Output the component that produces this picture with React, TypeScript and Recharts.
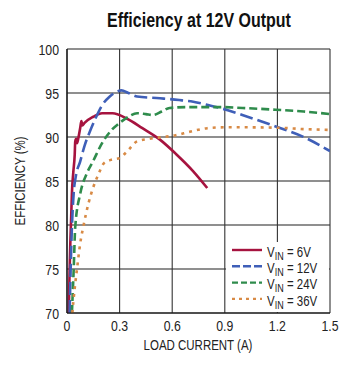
import React from 'react';
import { LineChart, Line, XAxis, YAxis, CartesianGrid, Label } from 'recharts';

const FONT = "'Liberation Sans', Arial, sans-serif";
const SQUEEZE = 0.82;

const xTicks = [0, 0.3, 0.6, 0.9, 1.2, 1.5];
const yTicks = [70, 75, 80, 85, 90, 95, 100];

const v6Current = [0.01, 0.015, 0.019, 0.024, 0.028, 0.036, 0.044, 0.047, 0.052, 0.057, 0.064, 0.075, 0.082, 0.087, 0.1, 0.15, 0.2, 0.26, 0.34, 0.43, 0.53, 0.62, 0.72, 0.8];
const v6Eff = [70, 75, 78, 81, 83.6, 86, 88, 89.5, 89.8, 89.3, 89.8, 91.0, 91.8, 91.3, 91.6, 92.3, 92.7, 92.7, 92.1, 91.0, 89.7, 88.1, 86.1, 84.2];

const v12Current = [0.015, 0.025, 0.038, 0.05, 0.075, 0.1, 0.13, 0.16, 0.2, 0.244, 0.29, 0.31, 0.35, 0.4, 0.53, 0.64, 0.72, 0.81, 0.89, 1.0, 1.19, 1.35, 1.5];
const v12Eff = [70, 78, 83.6, 85.5, 87.2, 89.0, 90.6, 92.0, 93.6, 94.6, 95.2, 95.3, 95.0, 94.6, 94.4, 94.2, 94.0, 93.6, 93.2, 92.5, 91.2, 90.0, 88.4];

const v24Current = [0.028, 0.038, 0.047, 0.076, 0.114, 0.15, 0.2, 0.25, 0.3, 0.35, 0.4, 0.45, 0.49, 0.54, 0.585, 0.68, 0.81, 0.89, 1.0, 1.19, 1.35, 1.5];
const v24Eff = [70, 74.9, 79.8, 83.6, 85.9, 87.3, 89.3, 90.7, 91.6, 92.3, 92.7, 92.6, 92.5, 92.9, 93.3, 93.4, 93.4, 93.4, 93.3, 93.1, 92.9, 92.6];

const v36Current = [0.03, 0.045, 0.057, 0.076, 0.095, 0.123, 0.15, 0.18, 0.21, 0.25, 0.3, 0.34, 0.4, 0.47, 0.55, 0.62, 0.7, 0.8, 0.9, 1.02, 1.21, 1.35, 1.5];
const v36Eff = [70, 73, 75, 78, 80, 82.5, 84.3, 85.8, 87, 87.4, 87.6, 88.3, 89.5, 89.8, 90.0, 90.2, 90.6, 91.0, 91.1, 91.1, 91.05, 90.9, 90.8];

const seriesLabels = ['6V', '12V', '24V', '36V'];
const seriesColors = ['#a6133f', '#3f5fb8', '#2f8c4c', '#d88a45'];
const seriesDash = [undefined, '13 5', '8 4', '3 5'];
const legendDash = [undefined, '8 3', '6 3', '3 4'];

const build = (xs: number[], ys: number[]) => xs.map((x, i) => ({ x, y: ys[i] }));

const series = [
  build(v6Current, v6Eff),
  build(v12Current, v12Eff),
  build(v24Current, v24Eff),
  build(v36Current, v36Eff),
];

function NText(props: any) {
  const { x, y, anchor = 'start', size = 14, weight = 'normal', rotate = false, fill = '#222', children } = props;
  return (
    <g transform={`translate(${x} ${y})${rotate ? ' rotate(-90)' : ''} scale(${SQUEEZE} 1)`}>
      <text x={0} y={0} textAnchor={anchor} fontSize={size} fontWeight={weight} fontFamily={FONT} fill={fill}>
        {children}
      </text>
    </g>
  );
}

const XTick = (props: any) => {
  const { x, y, payload } = props;
  const v = payload.value as number;
  return <NText x={x} y={y + 10} anchor="middle" size={15}>{v === 0 ? '0' : v.toFixed(1)}</NText>;
};

const YTick = (props: any) => {
  const { x, y, payload } = props;
  return <NText x={x} y={y + 5.5} anchor="end" size={15}>{String(payload.value)}</NText>;
};

export default function App() {
  return (
    <div style={{ position: 'absolute', left: 0, top: 0, width: 360, height: 371, background: '#fff' }}>
      <LineChart width={360} height={371} margin={{ top: 49, right: 30, bottom: 0, left: 0 }}>
        <CartesianGrid horizontal={true} vertical={false} stroke="#6a6a6a" strokeWidth={1.6} />
        <CartesianGrid horizontal={false} vertical={true} stroke="#333" strokeWidth={1.1} />
        <XAxis
          type="number"
          dataKey="x"
          domain={[0, 1.5]}
          ticks={xTicks}
          height={58}
          tickLine={false}
          axisLine={{ stroke: '#111', strokeWidth: 1.2 }}
          tick={<XTick />}
          allowDataOverflow
        >
          <Label content={() => <NText x={198} y={350} anchor="middle" size={14}>LOAD CURRENT (A)</NText>} />
        </XAxis>
        <YAxis
          type="number"
          domain={[70, 100]}
          ticks={yTicks}
          width={67}
          tickLine={false}
          axisLine={{ stroke: '#111', strokeWidth: 1.2 }}
          tick={<YTick />}
          allowDataOverflow
        >
          <Label content={() => <NText x={25} y={181} anchor="middle" size={14} rotate>EFFICIENCY (%)</NText>} />
        </YAxis>
        {series.map((d, i) => (
          <Line
            key={seriesLabels[i]}
            data={d}
            dataKey="y"
            type="monotone"
            stroke={seriesColors[i]}
            strokeWidth={2.6}
            strokeDasharray={seriesDash[i]}
            dot={false}
            activeDot={false}
            isAnimationActive={false}
          />
        ))}
      </LineChart>
      <svg width={360} height={371} style={{ position: 'absolute', left: 0, top: 0, pointerEvents: 'none' }}>
        <NText x={199} y={27} anchor="middle" size={19.5} weight="bold" fill="#111">Efficiency at 12V Output</NText>
        <rect x={226} y={242} width={103} height={70} fill="#fff" />
        {seriesLabels.map((lab, i) => (
          <g key={lab}>
            <line x1={232} x2={262} y1={250 + i * 16.3} y2={250 + i * 16.3} stroke={seriesColors[i]} strokeWidth={2.4} strokeDasharray={legendDash[i]} />
            <g transform={`translate(267 ${256.5 + i * 16.4}) scale(${SQUEEZE} 1)`}>
              <text x={0} y={0} fontSize={14} fontFamily={FONT} fill="#222">
                V<tspan fontSize={11} dy={3}>IN</tspan>
                <tspan dy={-3}>{' = ' + lab}</tspan>
              </text>
            </g>
          </g>
        ))}
      </svg>
    </div>
  );
}
